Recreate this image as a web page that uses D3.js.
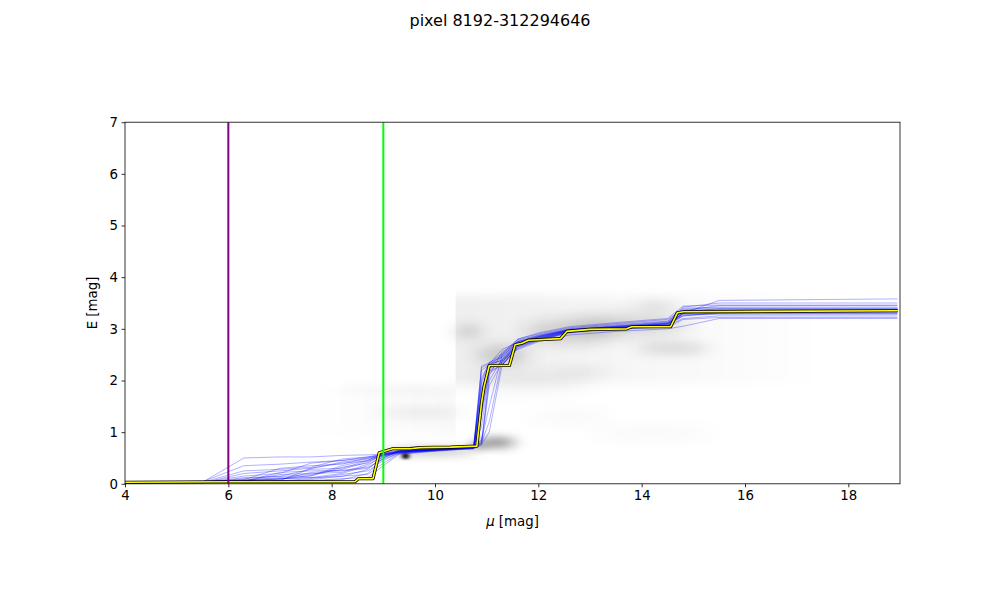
<!DOCTYPE html>
<html><head><meta charset="utf-8">
<script src="https://cdn.jsdelivr.net/npm/d3@7"></script>
<style>body{margin:0;background:#fff}svg{display:block;font-family:"DejaVu Sans",sans-serif}</style>
</head><body><svg id="c" width="1000" height="600"></svg>
<script>
const title = "pixel 8192-312294646";
const xTicks = [4, 6, 8, 10, 12, 14, 16, 18];
const yTicks = [0, 1, 2, 3, 4, 5, 6, 7];
const xDomain = [4, 19];
const yDomain = [0, 7];

// best-fit (yellow) path
const bestMu = [4, 6.0, 8.45, 8.52, 8.8, 8.92, 9.18, 9.52, 9.71, 10.3, 10.81, 10.9, 10.95, 11.05, 11.44, 11.55, 11.68, 11.81, 12.43, 12.55, 13.0, 13.71, 13.81, 14.56, 14.69, 14.81, 18.96];
const bestE  = [0.03, 0.04, 0.04, 0.1, 0.1, 0.6, 0.68, 0.68, 0.70, 0.71, 0.73, 1.56, 1.88, 2.29, 2.29, 2.69, 2.72, 2.78, 2.81, 2.95, 2.99, 3.00, 3.04, 3.04, 3.31, 3.33, 3.35];

// sample paths (blue), on a shared distance grid
const sampleMu = [4, 5.5, 6.3, 7.0, 7.6, 8.2, 8.7, 9.0, 9.3, 10.0, 10.75, 10.9, 11.05, 11.3, 11.6, 12.0, 12.6, 13.5, 14.5, 14.8, 15.5, 18.95];
const sampleE = [
 [0.02,0.03,0.05,0.10,0.12,0.20,0.35,0.55,0.62,0.66,0.70,1.60,2.25,2.30,2.65,2.78,2.92,3.00,3.05,3.30,3.32,3.33],
 [0.02,0.02,0.20,0.25,0.30,0.42,0.48,0.55,0.60,0.65,0.68,0.75,1.90,2.35,2.72,2.80,2.95,3.02,3.10,3.25,3.30,3.30],
 [0.01,0.02,0.03,0.05,0.08,0.15,0.18,0.40,0.58,0.64,0.70,2.20,2.30,2.50,2.75,2.85,2.98,3.05,3.12,3.40,3.42,3.42],
 [0.02,0.04,0.08,0.30,0.35,0.38,0.50,0.58,0.63,0.67,0.72,0.80,1.20,2.40,2.60,2.75,2.88,2.95,3.00,3.05,3.20,3.20],
 [0.01,0.03,0.10,0.15,0.28,0.30,0.45,0.60,0.65,0.68,0.74,2.00,2.35,2.45,2.78,2.88,3.00,3.08,3.15,3.35,3.45,3.45],
 [0.03,0.04,0.06,0.08,0.22,0.25,0.30,0.50,0.62,0.66,0.69,1.40,2.20,2.35,2.70,2.82,2.96,3.02,3.08,3.30,3.36,3.36],
 [0.02,0.03,0.50,0.52,0.52,0.55,0.56,0.58,0.62,0.66,0.70,0.78,2.10,2.55,2.75,2.86,2.98,3.04,3.10,3.30,3.55,3.58],
 [0.01,0.02,0.04,0.06,0.10,0.18,0.25,0.45,0.60,0.64,0.68,1.80,2.28,2.32,2.68,2.79,2.94,3.00,3.04,3.32,3.34,3.34],
 [0.02,0.03,0.15,0.20,0.40,0.45,0.50,0.55,0.63,0.68,0.73,0.85,1.50,2.50,2.80,2.90,3.02,3.10,3.18,3.38,3.40,3.40],
 [0.02,0.05,0.07,0.12,0.15,0.32,0.40,0.57,0.61,0.65,0.70,1.95,2.30,2.40,2.70,2.84,2.97,3.03,3.10,3.28,3.30,3.30],
 [0.01,0.02,0.03,0.04,0.05,0.08,0.20,0.50,0.64,0.67,0.71,2.25,2.32,2.60,2.74,2.83,2.96,3.02,3.06,3.20,3.25,3.25],
 [0.02,0.03,0.25,0.28,0.32,0.48,0.52,0.56,0.62,0.66,0.72,1.10,2.15,2.30,2.62,2.77,2.93,3.00,3.08,3.36,3.38,3.38],
 [0.02,0.03,0.05,0.18,0.20,0.22,0.38,0.52,0.60,0.65,0.69,1.70,2.26,2.45,2.72,2.85,2.99,3.06,3.14,3.42,3.50,3.50],
 [0.01,0.03,0.04,0.06,0.30,0.40,0.44,0.54,0.61,0.66,0.70,0.76,1.00,2.30,2.66,2.80,2.95,3.01,3.07,3.25,3.32,3.32],
 [0.02,0.02,0.12,0.14,0.18,0.28,0.42,0.58,0.63,0.67,0.71,2.05,2.33,2.38,2.76,2.87,2.99,3.04,3.09,3.31,3.35,3.35],
 [0.02,0.03,0.04,0.05,0.06,0.10,0.12,0.35,0.57,0.63,0.68,1.30,2.18,2.30,2.64,2.78,2.94,3.00,3.03,3.18,3.22,3.22],
 [0.02,0.04,0.35,0.38,0.42,0.45,0.52,0.58,0.64,0.68,0.74,2.28,2.34,2.52,2.80,2.92,3.04,3.12,3.20,3.44,3.46,3.46],
 [0.01,0.02,0.06,0.09,0.16,0.35,0.46,0.56,0.62,0.66,0.70,0.82,2.00,2.42,2.70,2.81,2.95,3.01,3.06,3.27,3.28,3.28],
 [0.02,0.03,0.05,0.22,0.25,0.26,0.32,0.48,0.59,0.64,0.69,1.55,2.24,2.36,2.69,2.82,2.97,3.03,3.11,3.34,3.37,3.37],
 [0.02,0.03,0.08,0.10,0.12,0.14,0.28,0.53,0.62,0.66,0.70,1.85,2.29,2.48,2.73,2.84,2.97,3.05,3.12,3.33,3.39,3.39]
];

// density background: soft blobs
const blobMu = [9.9, 9.43, 11.2, 9.7, 9.3, 12.6, 12.9, 14.2, 14.6, 10.65, 14.3, 11.3, 12.6, 13.8, 10.85, 11.8];
const blobE  = [0.63, 0.54, 0.80, 1.38, 1.82, 1.30, 2.18, 0.98, 2.62, 2.95, 3.45, 2.50, 2.95, 3.08, 0.74, 2.0];
const blobRx = [0.9, 0.07, 0.35, 0.9, 1.2, 0.8, 0.5, 1.2, 0.7, 0.25, 0.4, 0.5, 0.9, 1.1, 0.2, 1.2];
const blobRy = [0.06, 0.06, 0.08, 0.05, 0.05, 0.06, 0.05, 0.06, 0.07, 0.15, 0.08, 0.2, 0.22, 0.2, 0.06, 0.2];
const blobA  = [0.3, 0.95, 0.55, 0.13, 0.05, 0.06, 0.09, 0.06, 0.22, 0.14, 0.12, 0.16, 0.17, 0.15, 0.35, 0.06];
const blobBlur = [8, 2, 8, 10, 8, 12, 10, 12, 10, 9, 10, 10, 12, 12, 6, 14];
// density background: sharp-edged washes
const washMu0 = [7.5, 10.4];
const washMu1 = [10.4, 17.5];
const washE0  = [0.95, 1.93];
const washE1  = [1.9, 3.65];
const washA0  = [0.0, 0.065];
const washA1  = [0.025, 0.0];

const refMu = [6, 9];
const refColor = ["purple", "#00ff00"];

const svg = d3.select("#c");
const L = 125, R = 900, T = 122.2, B = 483.8;
const x = d3.scaleLinear().domain(xDomain).range([L, R]);
const y = d3.scaleLinear().domain(yDomain).range([B, T]);

const defs = svg.append("defs");
defs.append("clipPath").attr("id", "clip").append("rect")
  .attr("x", L).attr("y", T).attr("width", R - L).attr("height", B - T);
blobBlur.forEach((b, i) => {
  defs.append("filter").attr("id", "bl" + i).attr("x", "-150%").attr("y", "-400%")
    .attr("width", "400%").attr("height", "900%")
    .append("feGaussianBlur").attr("stdDeviation", b + " " + (b * 0.6));
});
defs.append("filter").attr("id", "vblur").attr("x", "0%").attr("y", "-20%")
  .attr("width", "100%").attr("height", "140%")
  .append("feGaussianBlur").attr("stdDeviation", "0 5");
washMu0.forEach((m, i) => {
  const g = defs.append("linearGradient").attr("id", "wg" + i);
  g.append("stop").attr("offset", "0%").attr("stop-color", "#000").attr("stop-opacity", washA0[i]);
  g.append("stop").attr("offset", "100%").attr("stop-color", "#000").attr("stop-opacity", washA1[i]);
});

const plot = svg.append("g").attr("clip-path", "url(#clip)");
const dens = plot.append("g");
washMu0.forEach((m, i) => {
  dens.append("rect").attr("x", x(m)).attr("width", x(washMu1[i]) - x(m))
    .attr("y", y(washE1[i])).attr("height", y(washE0[i]) - y(washE1[i]))
    .attr("fill", "url(#wg" + i + ")").attr("filter", "url(#vblur)");
});
blobMu.forEach((m, i) => {
  dens.append("ellipse").attr("cx", x(m)).attr("cy", y(blobE[i]))
    .attr("rx", x(m + blobRx[i]) - x(m)).attr("ry", y(0) - y(blobRy[i]))
    .attr("fill", "#000").attr("fill-opacity", blobA[i])
    .attr("filter", "url(#bl" + i + ")");
});

const line = d3.line().x(d => x(d[0])).y(d => y(d[1]));
sampleE.forEach(es => {
  plot.append("path").datum(sampleMu.map((m, j) => [m, es[j]]))
    .attr("d", line).attr("fill", "none").attr("stroke", "blue")
    .attr("stroke-opacity", 0.35).attr("stroke-width", 0.9);
});
const best = bestMu.map((m, j) => [m, bestE[j]]);
plot.append("path").datum(best).attr("d", line).attr("fill", "none")
  .attr("stroke", "#000").attr("stroke-width", 3.2).attr("stroke-linejoin", "round");
plot.append("path").datum(best).attr("d", line).attr("fill", "none")
  .attr("stroke", "yellow").attr("stroke-width", 1.6).attr("stroke-linejoin", "round");

refMu.forEach((m, i) => {
  plot.append("line").attr("x1", x(m)).attr("x2", x(m)).attr("y1", T).attr("y2", B)
    .attr("stroke", refColor[i]).attr("stroke-width", 2);
});

// axes
const xAxis = svg.append("g").attr("transform", `translate(0,${B})`)
  .call(d3.axisBottom(x).tickValues(xTicks).tickFormat(d3.format("d")).tickSize(3.5).tickPadding(3.5));
const yAxis = svg.append("g").attr("transform", `translate(${L},0)`)
  .call(d3.axisLeft(y).tickValues(yTicks).tickFormat(d3.format("d")).tickSize(3.5).tickPadding(3.5));
[xAxis, yAxis].forEach(a => {
  a.select(".domain").remove();
  a.selectAll("line").attr("stroke", "#000").attr("stroke-width", 0.8);
  a.selectAll("text").attr("font-size", "13.33px").attr("fill", "#000").attr("font-family", "DejaVu Sans");
});
svg.append("rect").attr("x", L).attr("y", T).attr("width", R - L).attr("height", B - T)
  .attr("fill", "none").attr("stroke", "#000").attr("stroke-width", 0.8);

svg.append("text").attr("x", 500).attr("y", 26).attr("text-anchor", "middle")
  .attr("font-size", "16px").text(title);
const xl = svg.append("text").attr("x", (L + R) / 2).attr("y", 526).attr("text-anchor", "middle")
  .attr("font-size", "13.33px");
xl.append("tspan").attr("font-style", "italic").text("μ");
xl.append("tspan").text(" [mag]");
svg.append("text").attr("transform", `translate(97,${(T + B) / 2}) rotate(-90)`)
  .attr("text-anchor", "middle").attr("font-size", "13.33px").text("E [mag]");
</script></body></html>
